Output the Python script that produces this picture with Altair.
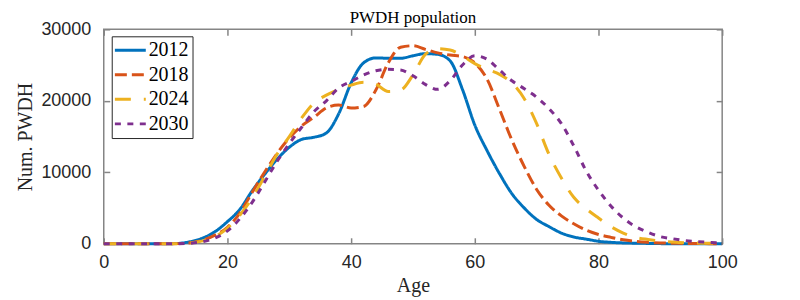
import altair as alt
import pandas as pd

ages = list(range(0, 101, 2))

y2012 = [0, 0, 0, 0, 0, 0, 50, 300, 800, 1700, 3100, 4800, 7400, 9700, 11800, 13500,
         14600, 14900, 15500, 18200, 22500, 25300, 26000, 25950, 25950, 26300, 26600,
         26500, 25600, 21600, 16600, 13000, 9800, 7000, 5000, 3400, 2400, 1500, 950,
         650, 350, 200, 120, 80, 50, 20, 10, 5, 0, 0, 0]
y2018 = [0, 0, 0, 0, 0, 0, 20, 150, 500, 1200, 2300, 4300, 7200, 10000, 12600, 14800,
         16500, 17700, 19000, 19400, 19000, 19200, 21500, 25300, 27500, 27700, 27200,
         26700, 26400, 26200, 25300, 23000, 18800, 14500, 10800, 7600, 5400, 3900, 2800,
         1900, 1300, 900, 550, 330, 200, 120, 80, 50, 30, 15, 10]
y2024 = [0, 0, 0, 0, 0, 0, 20, 120, 400, 1000, 2200, 4000, 6400, 9400, 12500, 15000,
         17600, 19700, 20800, 21600, 22200, 22600, 22300, 21300, 21500, 23600, 26500,
         27300, 27100, 26300, 25200, 24400, 23700, 22500, 20300, 16800, 12500, 9200, 6500,
         4900, 3600, 2400, 1500, 900, 600, 380, 250, 150, 100, 60, 40]
y2030 = [0, 0, 0, 0, 0, 0, 10, 80, 300, 800, 1800, 3500, 5800, 8600, 11500, 14000,
         16300, 18500, 20000, 21800, 22700, 23600, 24200, 24400, 24300, 23500, 22300,
         21600, 22800, 25000, 26300, 25800, 24300, 22800, 21700, 20500, 18900, 16800, 13700,
         10200, 7500, 5300, 3600, 2400, 1600, 1000, 700, 450, 300, 200, 120]

years = ["2012", "2018", "2024", "2030"]
colors = ["#0072BD", "#D95319", "#EDB120", "#7E2F8E"]
dashes = [[1, 0], [12, 5], [16, 13], [6, 6.5]]
widths = [3, 3, 3, 5.5]
x_ticks = [0, 20, 40, 60, 80, 100]
y_ticks = [0, 10000, 20000, 30000]

rows = []
for yr, vals in zip(years, [y2012, y2018, y2024, y2030]):
    for a, v in zip(ages, vals):
        rows.append({"Age": a, "Value": v, "Year": yr})
df = pd.DataFrame(rows)

AXC = "#858585"
TXT = "#262626"

xscale = alt.Scale(domain=[0, 100], nice=False)
yscale = alt.Scale(domain=[0, 30000], nice=False)

lines = alt.Chart(df).mark_line(interpolate="monotone", strokeCap="butt").encode(
    x=alt.X("Age:Q", scale=xscale,
            axis=alt.Axis(values=x_ticks, orient="bottom", title="Age", offset=-6,
                          tickSize=6, labelPadding=10, titlePadding=4, labelFlush=False)),
    y=alt.Y("Value:Q", scale=yscale,
            axis=alt.Axis(values=y_ticks, orient="left", title="Num. PWDH", format="d",
                          offset=-6, tickSize=6, labelPadding=13, titlePadding=5,
                          labelFlush=False)),
    color=alt.Color("Year:N", scale=alt.Scale(domain=years, range=colors),
                    legend=alt.Legend(title=None)),
    strokeDash=alt.StrokeDash("Year:N", scale=alt.Scale(domain=years, range=dashes),
                              legend=alt.Legend(title=None)),
    strokeWidth=alt.StrokeWidth("Year:N", scale=alt.Scale(domain=years, range=widths),
                                legend=alt.Legend(title=None)),
)

ghost = alt.Chart(df).mark_line(opacity=0).encode(
    x=alt.X("Age:Q", scale=xscale,
            axis=alt.Axis(values=x_ticks, orient="top", labels=False, title=None,
                          offset=-6, tickSize=6)),
    y=alt.Y("Value:Q", scale=yscale,
            axis=alt.Axis(values=y_ticks, orient="right", labels=False, title=None,
                          offset=-6, tickSize=6)),
)

chart = alt.layer(lines, ghost).resolve_axis(x="independent", y="independent").properties(
    width=620, height=215,
    title=alt.Title("PWDH population", font="Liberation Serif", fontSize=17,
                    fontWeight="normal", color="#000000", anchor="middle", frame="group",
                    dy=11),
    padding={"left": 96, "top": 21, "right": 70, "bottom": 56},
    autosize="none",
).configure_view(
    stroke=AXC, strokeWidth=1.5
).configure_axis(
    domain=False, grid=False, tickColor=AXC, tickWidth=1.5,
    labelFont="Liberation Sans", labelFontSize=18, labelColor=TXT,
    titleFont="Liberation Serif", titleFontSize=20, titleFontWeight="normal",
    titleColor=TXT,
).configure_legend(
    orient="none", legendX=8, legendY=7, strokeColor=TXT, fillColor="white",
    padding=4, symbolType="M-1.4,0H2.6", symbolSize=240, labelFont="Liberation Serif",
    labelFontSize=20, labelColor="#000000", rowPadding=4.6, labelOffset=13,
)

chart.save("out.html", embed_options={"renderer": "svg", "actions": False})
